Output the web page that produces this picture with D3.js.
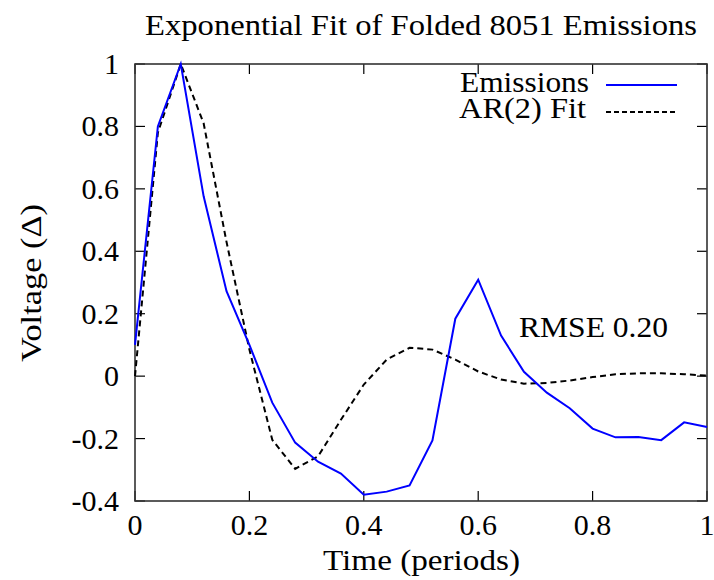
<!DOCTYPE html>
<html><head><meta charset="utf-8">
<script src="https://cdn.jsdelivr.net/npm/d3@7"></script>
<style>body{margin:0;background:#fff}svg{display:block}text{font-family:"Liberation Serif","Times New Roman",serif;fill:#000}</style>
</head><body>
<script>
const times = [0,0.04,0.08,0.12,0.16,0.2,0.24,0.28,0.32,0.36,0.4,0.44,0.48,0.52,0.56,0.6,0.64,0.68,0.72,0.76,0.8,0.84,0.88,0.92,0.96,1.0];
const emissions = [0.10,0.80,1.0,0.576,0.272,0.10,-0.085,-0.213,-0.274,-0.312,-0.38,-0.37,-0.35,-0.206,0.184,0.309,0.13,0.014,-0.053,-0.103,-0.168,-0.196,-0.195,-0.205,-0.148,-0.163];
const arFit = [0.0,0.78,1.0,0.81,0.43,0.085,-0.204,-0.297,-0.257,-0.14,-0.027,0.053,0.091,0.085,0.053,0.015,-0.011,-0.024,-0.022,-0.014,-0.003,0.006,0.009,0.009,0.006,0.002];
const xTicks = [0,0.2,0.4,0.6,0.8,1];
const yTicks = [-0.4,-0.2,0,0.2,0.4,0.6,0.8,1];
const seriesNames = ["Emissions","AR(2) Fit"];
const titleText = "Exponential Fit of Folded 8051 Emissions";
const xLabel = "Time (periods)";
const yLabel = "Voltage (\u0394)";
const rmseText = "RMSE 0.20";

const W=714,H=580;
const L=135,R=707,T=64,B=501;
const svg=d3.select("body").append("svg").attr("width",W).attr("height",H);
const x=d3.scaleLinear().domain([0,1]).range([L,R]);
const y=d3.scaleLinear().domain([-0.4,1]).range([B,T]);
const fmt=d=>d===0?"0":(d===1?"1":d3.format(".1f")(d).replace("\u2212","-"));
const fs=29;

// ticks (inward, mirrored)
const tk=10;
const g=svg.append("g").attr("stroke","#000").attr("stroke-width",1.2);
xTicks.forEach(v=>{
  g.append("line").attr("x1",x(v)).attr("x2",x(v)).attr("y1",B).attr("y2",B-tk);
  g.append("line").attr("x1",x(v)).attr("x2",x(v)).attr("y1",T).attr("y2",T+tk);
});
yTicks.forEach(v=>{
  g.append("line").attr("x1",L).attr("x2",L+tk).attr("y1",y(v)).attr("y2",y(v));
  g.append("line").attr("x1",R).attr("x2",R-tk).attr("y1",y(v)).attr("y2",y(v));
});
svg.append("rect").attr("x",L).attr("y",T).attr("width",R-L).attr("height",B-T)
  .attr("fill","none").attr("stroke","#333").attr("stroke-width",1.6);

// tick labels
svg.append("g").selectAll("text").data(xTicks).join("text")
  .attr("x",d=>x(d)).attr("y",B+34).attr("text-anchor","middle").attr("font-size",30).text(fmt);
svg.append("g").selectAll("text").data(yTicks).join("text")
  .attr("x",L-16).attr("y",d=>y(d)+10).attr("text-anchor","end").attr("font-size",30).text(fmt);

// lines
const line=(arr)=>d3.line().x((d,i)=>x(times[i])).y(d=>y(d))(arr);
svg.append("path").attr("d",line(arFit)).attr("fill","none").attr("stroke","#000").attr("stroke-width",2).attr("stroke-dasharray","6,4");
svg.append("path").attr("d",line(emissions)).attr("fill","none").attr("stroke","#0000ff").attr("stroke-width",2);

// title & labels (widths stretched to match the reference's wider serif)
const txt=(xx,yy,s,len,anchor)=>svg.append("text").attr("x",xx).attr("y",yy).attr("font-size",fs)
  .attr("text-anchor",anchor||"start").attr("textLength",len).attr("lengthAdjust","spacingAndGlyphs").text(s);
txt(145,35,titleText,552);
txt(323,570,xLabel,197);
txt(519,337,rmseText,149);
svg.append("text").attr("transform","translate(41,283) rotate(-90)").attr("text-anchor","middle")
  .attr("font-size",fs).attr("textLength",158).attr("lengthAdjust","spacingAndGlyphs").text(yLabel);

// legend
const leg=[{n:seriesNames[0],c:"#0000ff",d:null,y:85,tx:460,tl:129,ty:92},{n:seriesNames[1],c:"#000",d:"5,3",y:112,tx:459,tl:127,ty:118}];
leg.forEach(l=>{
  txt(l.tx,l.ty,l.n,l.tl);
  svg.append("line").attr("x1",606).attr("x2",677).attr("y1",l.y).attr("y2",l.y).attr("stroke",l.c).attr("stroke-width",2).attr("stroke-dasharray",l.d);
});
</script>
</body></html>
